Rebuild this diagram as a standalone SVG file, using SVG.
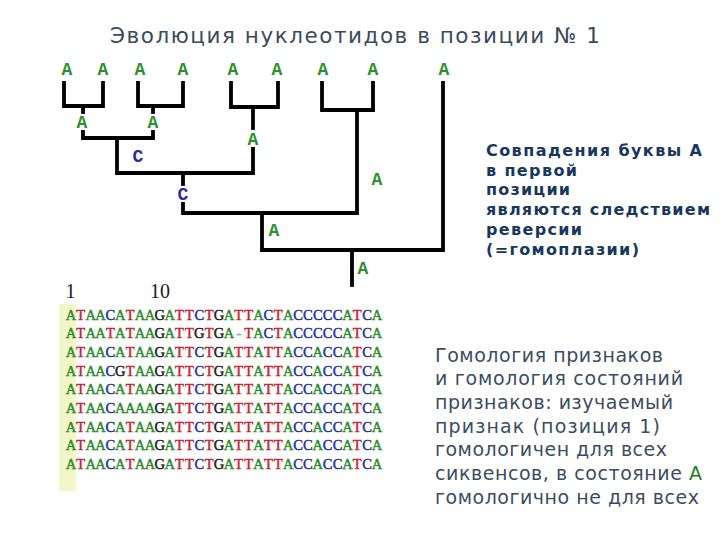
<svg xmlns="http://www.w3.org/2000/svg" width="720" height="540" viewBox="0 0 720 540">
<style>
.title{font-family:"DejaVu Sans",sans-serif;font-size:21.5px;fill:#3b4b5c}
.tl{font-family:"Liberation Mono",monospace;font-weight:bold;font-size:18px;text-anchor:middle}
.na{fill:#2f8f2f}
.nc{fill:#2b2ba0}
.edge{fill:none;stroke:#000;stroke-width:3.8;stroke-linejoin:miter;stroke-linecap:square}
.seq{font-family:"Liberation Serif",serif;font-size:14.5px;text-anchor:middle;stroke-width:0.45}
.a{fill:#2a8c2a;stroke:#2a8c2a}.t{fill:#c8202a;stroke:#c8202a}.c{fill:#2030a0;stroke:#2030a0}.g{fill:#1a1a1a;stroke:#1a1a1a}.d{fill:#7fa0c8;stroke:#7fa0c8}
.hdr{font-family:"Liberation Serif",serif;font-size:20px;fill:#1a1a1a;text-anchor:middle}
.bold{font-family:"DejaVu Sans",sans-serif;font-weight:bold;font-size:16px;fill:#17375e}
.body{font-family:"DejaVu Sans",sans-serif;font-size:19px;fill:#3b4d60}
</style>
<rect width="720" height="540" fill="#fff"/>
<text class="title" x="110" y="43" textLength="490" lengthAdjust="spacing">Эволюция нуклеотидов в позиции № 1</text>

<g id="connectors">
<path class="edge" d="M64 83V106H103V83"/>
<path class="edge" d="M138 83V106H183V83"/>
<path class="edge" d="M231 83V107H278V83"/>
<path class="edge" d="M322 83V110H373V83"/>
<path class="edge" d="M83 106V112"/>
<path class="edge" d="M153 106V112"/>
<path class="edge" d="M83 132V138H153V132"/>
<path class="edge" d="M253 107V128"/>
<path class="edge" d="M117 138V173H253V149"/>
<path class="edge" d="M183 173V184"/>
<path class="edge" d="M183 204V213H357V110"/>
<path class="edge" d="M262 217V250H443V83"/>
<path class="edge" d="M352 250V285"/>
</g>

<g id="leaf1"><text class="tl na" x="67" y="75">A</text></g>
<g id="leaf2"><text class="tl na" x="103" y="75">A</text></g>
<g id="leaf3"><text class="tl na" x="140" y="75">A</text></g>
<g id="leaf4"><text class="tl na" x="183" y="75">A</text></g>
<g id="leaf5"><text class="tl na" x="233" y="75">A</text></g>
<g id="leaf6"><text class="tl na" x="277" y="75">A</text></g>
<g id="leaf7"><text class="tl na" x="323" y="75">A</text></g>
<g id="leaf8"><text class="tl na" x="373" y="75">A</text></g>
<g id="leaf9"><text class="tl na" x="444" y="75">A</text></g>
<g id="n12"><text class="tl na" x="82" y="128">A</text></g>
<g id="n34"><text class="tl na" x="153" y="128">A</text></g>
<g id="n56"><text class="tl na" x="253" y="145">A</text></g>
<g id="n1234"><text class="tl nc" x="138" y="162">C</text></g>
<g id="n1-6"><text class="tl nc" x="183" y="200">C</text></g>
<g id="n78"><text class="tl na" x="377" y="185">A</text></g>
<g id="n1-8"><text class="tl na" x="274" y="236">A</text></g>
<g id="root"><text class="tl na" x="363" y="274">A</text></g>

<g id="alignment">
<rect x="59" y="304" width="17" height="187" fill="#f3f6c6"/>
<text class="hdr" x="70.5" y="298">1</text>
<text class="hdr" x="160" y="298">10</text>
<text class="seq" y="319.5" x="70.9 80.8 90.7 100.5 110.4 120.3 130.2 140 149.9 159.8 169.7 179.5 189.4 199.3 209.2 219 228.9 238.8 248.7 258.5 268.4 278.3 288.2 298 307.9 317.8 327.7 337.5 347.4 357.3 367.2 377"><tspan class="a">A</tspan><tspan class="t">T</tspan><tspan class="a">AA</tspan><tspan class="c">C</tspan><tspan class="a">A</tspan><tspan class="t">T</tspan><tspan class="a">AA</tspan><tspan class="g">G</tspan><tspan class="a">A</tspan><tspan class="t">TT</tspan><tspan class="c">C</tspan><tspan class="t">T</tspan><tspan class="g">G</tspan><tspan class="a">A</tspan><tspan class="t">TT</tspan><tspan class="a">A</tspan><tspan class="c">C</tspan><tspan class="t">T</tspan><tspan class="a">A</tspan><tspan class="c">CCCCC</tspan><tspan class="a">A</tspan><tspan class="t">T</tspan><tspan class="c">C</tspan><tspan class="a">A</tspan></text>
<text class="seq" y="338.2" x="70.9 80.8 90.7 100.5 110.4 120.3 130.2 140 149.9 159.8 169.7 179.5 189.4 199.3 209.2 219 228.9 238.8 248.7 258.5 268.4 278.3 288.2 298 307.9 317.8 327.7 337.5 347.4 357.3 367.2 377"><tspan class="a">A</tspan><tspan class="t">T</tspan><tspan class="a">AA</tspan><tspan class="t">T</tspan><tspan class="a">A</tspan><tspan class="t">T</tspan><tspan class="a">AA</tspan><tspan class="g">G</tspan><tspan class="a">A</tspan><tspan class="t">TT</tspan><tspan class="g">G</tspan><tspan class="t">T</tspan><tspan class="g">G</tspan><tspan class="a">A</tspan><tspan class="d">-</tspan><tspan class="t">T</tspan><tspan class="a">A</tspan><tspan class="c">C</tspan><tspan class="t">T</tspan><tspan class="a">A</tspan><tspan class="c">CCCCC</tspan><tspan class="a">A</tspan><tspan class="t">T</tspan><tspan class="c">C</tspan><tspan class="a">A</tspan></text>
<text class="seq" y="356.9" x="70.9 80.8 90.7 100.5 110.4 120.3 130.2 140 149.9 159.8 169.7 179.5 189.4 199.3 209.2 219 228.9 238.8 248.7 258.5 268.4 278.3 288.2 298 307.9 317.8 327.7 337.5 347.4 357.3 367.2 377"><tspan class="a">A</tspan><tspan class="t">T</tspan><tspan class="a">AA</tspan><tspan class="c">C</tspan><tspan class="a">A</tspan><tspan class="t">T</tspan><tspan class="a">AA</tspan><tspan class="g">G</tspan><tspan class="a">A</tspan><tspan class="t">TT</tspan><tspan class="c">C</tspan><tspan class="t">T</tspan><tspan class="g">G</tspan><tspan class="a">A</tspan><tspan class="t">TT</tspan><tspan class="a">A</tspan><tspan class="t">TT</tspan><tspan class="a">A</tspan><tspan class="c">CC</tspan><tspan class="a">A</tspan><tspan class="c">CC</tspan><tspan class="a">A</tspan><tspan class="t">T</tspan><tspan class="c">C</tspan><tspan class="a">A</tspan></text>
<text class="seq" y="375.6" x="70.9 80.8 90.7 100.5 110.4 120.3 130.2 140 149.9 159.8 169.7 179.5 189.4 199.3 209.2 219 228.9 238.8 248.7 258.5 268.4 278.3 288.2 298 307.9 317.8 327.7 337.5 347.4 357.3 367.2 377"><tspan class="a">A</tspan><tspan class="t">T</tspan><tspan class="a">AA</tspan><tspan class="c">C</tspan><tspan class="g">G</tspan><tspan class="t">T</tspan><tspan class="a">AA</tspan><tspan class="g">G</tspan><tspan class="a">A</tspan><tspan class="t">TT</tspan><tspan class="c">C</tspan><tspan class="t">T</tspan><tspan class="g">G</tspan><tspan class="a">A</tspan><tspan class="t">TT</tspan><tspan class="a">A</tspan><tspan class="t">TT</tspan><tspan class="a">A</tspan><tspan class="c">CC</tspan><tspan class="a">A</tspan><tspan class="c">CC</tspan><tspan class="a">A</tspan><tspan class="t">T</tspan><tspan class="c">C</tspan><tspan class="a">A</tspan></text>
<text class="seq" y="394.3" x="70.9 80.8 90.7 100.5 110.4 120.3 130.2 140 149.9 159.8 169.7 179.5 189.4 199.3 209.2 219 228.9 238.8 248.7 258.5 268.4 278.3 288.2 298 307.9 317.8 327.7 337.5 347.4 357.3 367.2 377"><tspan class="a">A</tspan><tspan class="t">T</tspan><tspan class="a">AA</tspan><tspan class="c">C</tspan><tspan class="a">A</tspan><tspan class="t">T</tspan><tspan class="a">AA</tspan><tspan class="g">G</tspan><tspan class="a">A</tspan><tspan class="t">TT</tspan><tspan class="c">C</tspan><tspan class="t">T</tspan><tspan class="g">G</tspan><tspan class="a">A</tspan><tspan class="t">TT</tspan><tspan class="a">A</tspan><tspan class="t">TT</tspan><tspan class="a">A</tspan><tspan class="c">CC</tspan><tspan class="a">A</tspan><tspan class="c">CC</tspan><tspan class="a">A</tspan><tspan class="t">T</tspan><tspan class="c">C</tspan><tspan class="a">A</tspan></text>
<text class="seq" y="413" x="70.9 80.8 90.7 100.5 110.4 120.3 130.2 140 149.9 159.8 169.7 179.5 189.4 199.3 209.2 219 228.9 238.8 248.7 258.5 268.4 278.3 288.2 298 307.9 317.8 327.7 337.5 347.4 357.3 367.2 377"><tspan class="a">A</tspan><tspan class="t">T</tspan><tspan class="a">AA</tspan><tspan class="c">C</tspan><tspan class="a">AAAA</tspan><tspan class="g">G</tspan><tspan class="a">A</tspan><tspan class="t">TT</tspan><tspan class="c">C</tspan><tspan class="t">T</tspan><tspan class="g">G</tspan><tspan class="a">A</tspan><tspan class="t">TT</tspan><tspan class="a">A</tspan><tspan class="t">TT</tspan><tspan class="a">A</tspan><tspan class="c">CC</tspan><tspan class="a">A</tspan><tspan class="c">CC</tspan><tspan class="a">A</tspan><tspan class="t">T</tspan><tspan class="c">C</tspan><tspan class="a">A</tspan></text>
<text class="seq" y="431.7" x="70.9 80.8 90.7 100.5 110.4 120.3 130.2 140 149.9 159.8 169.7 179.5 189.4 199.3 209.2 219 228.9 238.8 248.7 258.5 268.4 278.3 288.2 298 307.9 317.8 327.7 337.5 347.4 357.3 367.2 377"><tspan class="a">A</tspan><tspan class="t">T</tspan><tspan class="a">AA</tspan><tspan class="c">C</tspan><tspan class="a">A</tspan><tspan class="t">T</tspan><tspan class="a">AA</tspan><tspan class="g">G</tspan><tspan class="a">A</tspan><tspan class="t">TT</tspan><tspan class="c">C</tspan><tspan class="t">T</tspan><tspan class="g">G</tspan><tspan class="a">A</tspan><tspan class="t">TT</tspan><tspan class="a">A</tspan><tspan class="t">TT</tspan><tspan class="a">A</tspan><tspan class="c">CC</tspan><tspan class="a">A</tspan><tspan class="c">CC</tspan><tspan class="a">A</tspan><tspan class="t">T</tspan><tspan class="c">C</tspan><tspan class="a">A</tspan></text>
<text class="seq" y="450.4" x="70.9 80.8 90.7 100.5 110.4 120.3 130.2 140 149.9 159.8 169.7 179.5 189.4 199.3 209.2 219 228.9 238.8 248.7 258.5 268.4 278.3 288.2 298 307.9 317.8 327.7 337.5 347.4 357.3 367.2 377"><tspan class="a">A</tspan><tspan class="t">T</tspan><tspan class="a">AA</tspan><tspan class="c">C</tspan><tspan class="a">A</tspan><tspan class="t">T</tspan><tspan class="a">AA</tspan><tspan class="g">G</tspan><tspan class="a">A</tspan><tspan class="t">TT</tspan><tspan class="c">C</tspan><tspan class="t">T</tspan><tspan class="g">G</tspan><tspan class="a">A</tspan><tspan class="t">TT</tspan><tspan class="a">A</tspan><tspan class="t">TT</tspan><tspan class="a">A</tspan><tspan class="c">CC</tspan><tspan class="a">A</tspan><tspan class="c">CC</tspan><tspan class="a">A</tspan><tspan class="t">T</tspan><tspan class="c">C</tspan><tspan class="a">A</tspan></text>
<text class="seq" y="469.1" x="70.9 80.8 90.7 100.5 110.4 120.3 130.2 140 149.9 159.8 169.7 179.5 189.4 199.3 209.2 219 228.9 238.8 248.7 258.5 268.4 278.3 288.2 298 307.9 317.8 327.7 337.5 347.4 357.3 367.2 377"><tspan class="a">A</tspan><tspan class="t">T</tspan><tspan class="a">AA</tspan><tspan class="c">C</tspan><tspan class="a">A</tspan><tspan class="t">T</tspan><tspan class="a">AA</tspan><tspan class="g">G</tspan><tspan class="a">A</tspan><tspan class="t">TT</tspan><tspan class="c">C</tspan><tspan class="t">T</tspan><tspan class="g">G</tspan><tspan class="a">A</tspan><tspan class="t">TT</tspan><tspan class="a">A</tspan><tspan class="t">TT</tspan><tspan class="a">A</tspan><tspan class="c">CC</tspan><tspan class="a">A</tspan><tspan class="c">CC</tspan><tspan class="a">A</tspan><tspan class="t">T</tspan><tspan class="c">C</tspan><tspan class="a">A</tspan></text>
</g>

<g id="note-reversal">
<text class="bold" x="486" y="156" textLength="216" lengthAdjust="spacing">Совпадения буквы А</text>
<text class="bold" x="486" y="175.5" textLength="91" lengthAdjust="spacing">в первой</text>
<text class="bold" x="486" y="195" textLength="84" lengthAdjust="spacing">позиции</text>
<text class="bold" x="486" y="215" textLength="224" lengthAdjust="spacing">являются следствием</text>
<text class="bold" x="486" y="235" textLength="96" lengthAdjust="spacing">реверсии</text>
<text class="bold" x="486" y="255" textLength="153" lengthAdjust="spacing">(=гомоплазии)</text>
</g>

<g id="note-homology">
<text class="body" x="435" y="361.5" textLength="228" lengthAdjust="spacing">Гомология признаков</text>
<text class="body" x="435" y="385.2" textLength="248" lengthAdjust="spacing">и гомология состояний</text>
<text class="body" x="435" y="408.9" textLength="238" lengthAdjust="spacing">признаков: изучаемый</text>
<text class="body" x="435" y="432.6" textLength="225" lengthAdjust="spacing">признак (позиция 1)</text>
<text class="body" x="435" y="456.3" textLength="232" lengthAdjust="spacing">гомологичен для всех</text>
<text class="body" x="435" y="480" textLength="267" lengthAdjust="spacing">сиквенсов, в состояние <tspan fill="#1f7a1f">А</tspan></text>
<text class="body" x="435" y="503.7" textLength="264" lengthAdjust="spacing">гомологично не для всех</text>
</g>
</svg>
